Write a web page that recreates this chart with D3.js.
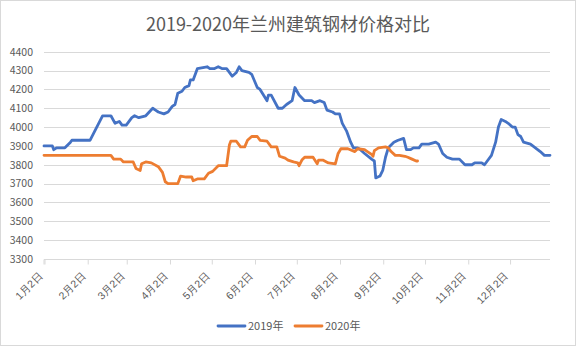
<!DOCTYPE html>
<html><head><meta charset="utf-8">
<script src="https://cdn.jsdelivr.net/npm/d3@7"></script>
<style>
html,body{margin:0;padding:0;background:#fff;}
svg{display:block;font-family:"Noto Sans CJK SC","Noto Sans",sans-serif;}
</style></head>
<body><svg id="chart" width="576" height="346"></svg>
<script>
const title = "2019-2020年兰州建筑钢材价格对比";
const seriesNames = ["2019年", "2020年"];
const tickLabels = ["1月2日","2月2日","3月2日","4月2日","5月2日","6月2日","7月2日","8月2日","9月2日","10月2日","11月2日","12月2日"];
const yTicks = [3300,3400,3500,3600,3700,3800,3900,4000,4100,4200,4300,4400];

const dates2019 = ["1/2","1/8","1/9","1/11","1/17","1/21","1/22","2/4","2/13","2/19","2/22","2/25","2/27","3/2","3/6","3/8","3/11","3/16","3/21","3/23","3/25","3/29","4/1","4/4","4/6","4/8","4/11","4/13","4/16","4/17","4/19","4/22","4/29","5/1","5/4","5/7","5/10","5/13","5/17","5/20","5/22","5/24","5/29","5/31","6/4","6/6","6/11","6/12","6/14","6/19","6/22","6/25","6/29","7/1","7/4","7/8","7/13","7/15","7/19","7/22","7/24","7/28","7/30","8/2","8/4","8/7","8/10","8/12","8/15","8/17","8/20","8/25","8/27","8/28","8/31","9/2","9/4","9/6","9/10","9/13","9/17","9/19","9/22","9/24","9/28","9/30","10/5","10/10","10/12","10/15","10/18","10/22","10/27","10/31","11/5","11/7","11/12","11/14","11/16","11/19","11/22","11/24","11/26","11/29","12/1","12/4","12/6","12/8","12/10","12/12","12/17","12/24","12/27","12/31"];
const values2019 = [3900,3900,3880,3890,3890,3920,3930,3930,4060,4060,4020,4030,4010,4010,4050,4060,4050,4060,4100,4090,4080,4070,4080,4110,4120,4180,4190,4210,4220,4250,4250,4310,4320,4310,4310,4320,4310,4310,4270,4290,4320,4300,4290,4280,4210,4200,4140,4170,4170,4100,4100,4120,4140,4210,4170,4140,4140,4130,4140,4130,4090,4080,4070,4070,4020,3980,3920,3890,3890,3880,3860,3830,3820,3730,3740,3770,3840,3890,3920,3930,3940,3880,3880,3890,3890,3910,3910,3920,3910,3860,3840,3830,3830,3800,3800,3810,3810,3800,3820,3850,3920,4000,4040,4030,4020,4000,4000,3960,3950,3920,3910,3870,3850,3850];

const dates2020 = ["1/2","2/19","2/21","2/26","2/28","3/7","3/9","3/12","3/13","3/16","3/20","3/25","3/28","3/30","4/1","4/8","4/10","4/14","4/18","4/19","4/22","4/27","4/30","5/3","5/7","5/13","5/15","5/16","5/20","5/23","5/26","5/28","5/31","6/4","6/6","6/11","6/14","6/18","6/20","6/24","6/26","6/30","7/3","7/4","7/6","7/8","7/14","7/17","7/18","7/21","7/25","7/30","8/1","8/3","8/8","8/13","8/15","8/20","8/22","8/25","8/26","8/27","8/30","9/4","9/6","9/8","9/11","9/14","9/18","9/20","9/23","9/26","9/27"];
const values2020 = [3850,3850,3830,3830,3815,3815,3780,3770,3805,3815,3810,3790,3760,3710,3700,3700,3740,3735,3735,3715,3725,3725,3755,3765,3795,3795,3905,3925,3925,3895,3895,3930,3950,3950,3930,3925,3895,3895,3845,3835,3825,3815,3810,3795,3825,3840,3840,3805,3825,3825,3810,3805,3860,3885,3885,3870,3885,3880,3870,3855,3845,3875,3890,3895,3890,3870,3850,3850,3845,3840,3830,3820,3820];

const colors = ["#4472C4", "#ED7D31"];

const svg = d3.select("#chart");
const W = 576, H = 346;
svg.append("rect").attr("x",0.5).attr("y",0.5).attr("width",W-1).attr("height",H-1)
  .attr("fill","#fff").attr("stroke","#d9d9d9");

const parse = s => { const [m,d] = s.split("/").map(Number); return new Date(2019, m-1, d); };
const x = d3.scaleTime().domain([new Date(2019,0,2), new Date(2019,11,31)]).range([44, 550]);
const y = d3.scaleLinear().domain([3300, 4400]).range([259, 51.7]);

// gridlines
svg.append("g").selectAll("line").data(yTicks.filter(v => v > 3300)).join("line")
  .attr("x1", 44).attr("x2", 550)
  .attr("y1", d => Math.round(y(d))+0.5).attr("y2", d => Math.round(y(d))+0.5)
  .attr("stroke", "#d9d9d9").attr("stroke-width", 1);

// y axis labels
const yAxis = d3.axisLeft(y).tickValues(yTicks).tickSize(0).tickPadding(0).tickFormat(d3.format("d"));
const gy = svg.append("g").attr("transform","translate(33,0)").call(yAxis);
gy.select(".domain").remove();
gy.selectAll("text").attr("fill","#595959").style("font-size","10.5px").style("font-family","'Noto Sans CJK SC',sans-serif");

// x axis
const tickDates = d3.range(12).map(m => new Date(2019, m, 2));
const xAxis = d3.axisBottom(x).tickValues(tickDates).tickSize(5).tickFormat((d,i) => tickLabels[i]);
const gx = svg.append("g").attr("transform", `translate(0,${Math.round(y(3300))+0.5})`).call(xAxis);
gx.select(".domain").attr("stroke","#d9d9d9").attr("d", `M44,5V0H550`);
gx.selectAll(".tick line").attr("stroke","#d9d9d9").attr("transform","translate(0.5,0)");
gx.selectAll(".tick text").attr("fill","#595959").style("font-size","10.5px")
  .attr("text-anchor","end").attr("dy",null).attr("y",null)
  .attr("transform","translate(-1,17) rotate(-45)");

// lines
const series = [
  {name: seriesNames[0], dates: dates2019, values: values2019},
  {name: seriesNames[1], dates: dates2020, values: values2020}
];
const line = d3.line().x(d => x(d.date)).y(d => y(d.value));
series.forEach((s, i) => {
  const pts = s.dates.map((d, j) => ({date: parse(d), value: s.values[j]}));
  svg.append("path").datum(pts).attr("d", line)
    .attr("fill","none").attr("stroke", colors[i]).attr("stroke-width", 2.8)
    .attr("stroke-linejoin","round").attr("stroke-linecap","round");
});

// title
svg.append("text").attr("x", 288).attr("y", 31).attr("text-anchor","middle")
  .attr("fill","#595959").style("font-size","18px").text(title);

// legend
const legendX = [218, 295];
series.forEach((s, i) => {
  const g = svg.append("g").attr("transform", `translate(${legendX[i]},326)`);
  g.append("line").attr("x1",0).attr("x2",27).attr("y1",0).attr("y2",0)
    .attr("stroke", colors[i]).attr("stroke-width", 2.8).attr("stroke-linecap","round");
  g.append("text").attr("x", 30).attr("y", 4).attr("fill","#595959").style("font-size","11px").text(s.name);
});
</script></body></html>
